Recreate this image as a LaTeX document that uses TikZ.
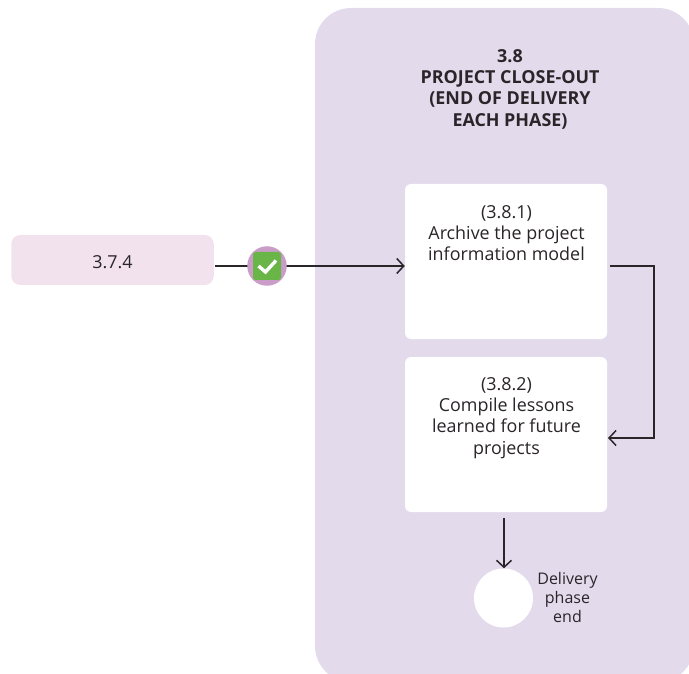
\documentclass[tikz,border=0pt]{standalone}
\usepackage{fontspec}
\setmainfont{Open Sans}
\usepackage{xcolor}
\usetikzlibrary{calc,arrows.meta}
\definecolor{panelbg}{HTML}{E3DBEC}
\definecolor{prevbg}{HTML}{F2E2EE}
\definecolor{ringc}{HTML}{C99DC8}
\definecolor{okc}{HTML}{6AB547}
\definecolor{ink}{HTML}{2A2529}
\tikzset{
  flow/.style={draw=ink, line width=1.5pt},
  tip/.style={-{Straight Barb[length=7pt,width=15pt,line width=1.5pt]}},
  stepbox/.style={fill=white, rounded corners=6pt, minimum width=202pt, minimum height=155pt, inner sep=0pt},
  steptext/.style={font=\fontsize{17.9}{21.3}\selectfont, text=ink, align=center, inner sep=0pt, anchor=north},
  endtext/.style={font=\fontsize{16}{19.4}\selectfont, text=ink, align=center, inner sep=0pt}
}
\begin{document}
\begin{tikzpicture}[x=1pt,y=-1pt]
  \useasboundingbox (0,0) rectangle (689,674);

  % phase panel, runs off the page
  \begin{scope}
    \clip (0,0) rectangle (689,674);
    \fill[panelbg, rounded corners=36pt] (315,8) rectangle (694,682);
  \end{scope}
  \node[font=\fontsize{17.9}{21.3}\selectfont\bfseries, text=ink, align=center, inner sep=0pt, anchor=north] (title) at (510,49)
  {3.8\\PROJECT CLOSE-OUT\\(END OF DELIVERY\\EACH PHASE)};

  % previous step
  \node[fill=prevbg, rounded corners=9pt, minimum width=202.5pt, minimum height=50pt, inner sep=0pt] (prev) at (112.5,260) {};
  \node[font=\fontsize{17.9}{21.3}\selectfont, text=ink, inner sep=0pt] (prevtext) at (112.5,262) {3.7.4};

  % two steps
  \node[stepbox] (archive) at (506,261.5) {};
  \node[steptext] (archivetext) at (506.5,205) {(3.8.1)\\Archive the project\\information model};
  \node[stepbox] (lessons) at (506,434.5) {};
  \node[steptext] (lessonstext) at (506.5,377) {(3.8.2)\\Compile lessons\\learned for future\\projects};

  % end of phase
  \node[circle, fill=white, minimum size=59pt, inner sep=0pt] (endpt) at (503.5,598) {};
  \node[endtext] (endlabel) at (567.5,597.5) {Delivery\\phase\\end};

  % free ends of the connectors
  \coordinate (prevout) at (215,266);
  \coordinate (archiveout) at (610,266);
  \coordinate (corner) at (654,266);
  \coordinate (lessonsin) at (608,438);
  \coordinate (lessonsout) at (504,518);

  % connectors
  \draw[flow] (prevout) -- (267,266) coordinate (checkpos);
  \draw[flow, tip] (checkpos) -- (checkpos -| archive.west);
  \draw[flow, tip, line join=miter] (archiveout) -- (corner) -- (corner |- lessonsin) -- (lessonsin);
  \draw[flow, tip] (lessonsout) -- (lessonsout |- endpt.north);

  % approval mark
  \node[circle, fill=ringc, minimum size=39.5pt, inner sep=0pt] (ring) at (checkpos) {};
  \node[fill=okc, rounded corners=2.5pt, minimum size=28pt, inner sep=0pt] (okbox) at (ring) {};
  \draw[white, line width=3.4pt] ($(okbox)+(-8.5,0)$) -- ($(okbox)+(-1.5,6)$) -- ($(okbox)+(9,-5.5)$);
\end{tikzpicture}
\end{document}
